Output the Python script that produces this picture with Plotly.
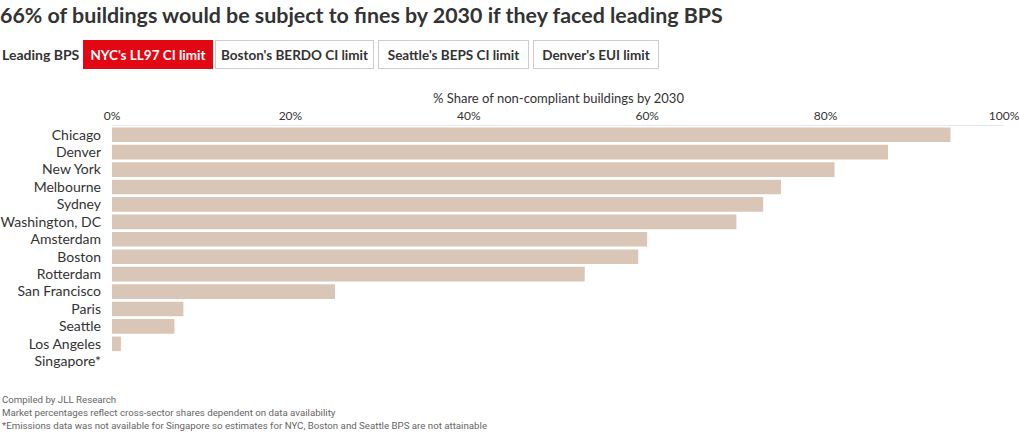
import plotly.graph_objects as go

cities = ["Chicago", "Denver", "New York", "Melbourne", "Sydney", "Washington, DC",
          "Amsterdam", "Boston", "Rotterdam", "San Francisco", "Paris", "Seattle",
          "Los Angeles", "Singapore*"]
share_pct = [94, 87, 81, 75, 73, 70, 60, 59, 53, 25, 8, 7, 1, None]
tick_vals = [0, 20, 40, 60, 80, 100]
tick_text = ["0%", "20%", "40%", "60%", "80%", "100%"]
buttons = ["NYC's LL97 CI limit", "Boston's BERDO CI limit", "Seattle's BEPS CI limit", "Denver's EUI limit"]
footnotes = ["Compiled by JLL Research",
             "Market percentages reflect cross-sector shares dependent on data availability",
             "*Emissions data was not available for Singapore so estimates for NYC, Boston and Seattle BPS are not attainable"]

FW, FH = 1020, 432
L, R, T, B = 112, 16, 126, 62
W, H = FW - L - R, FH - T - B


def px(x):
    return (x - L) / W


def py(y):
    return (FH - B - y) / H


FONT = "Lato, 'Open Sans', sans-serif"
TXT = "#333333"

fig = go.Figure(go.Bar(
    y=cities, x=share_pct, orientation="h",
    marker=dict(color="#dac6b7", line=dict(width=0)),
    hoverinfo="skip",
))

ann = []
ann.append(dict(x=px(0), y=py(54.5), xref="paper", yref="paper", xanchor="left", yanchor="middle",
                text="<b>Leading BPS</b>", showarrow=False, font=dict(family=FONT, size=14, color=TXT)))
btn_boxes = [(83, 213), (215, 374), (378, 529), (533, 659)]
for i, (lab, (x0, x1)) in enumerate(zip(buttons, btn_boxes)):
    active = i == 0
    ann.append(dict(
        x=px((x0 + x1) / 2), y=py(54.5), xref="paper", yref="paper",
        xanchor="center", yanchor="middle", showarrow=False,
        text="<b>%s</b>" % lab, width=x1 - x0 - 2, height=27, align="center", valign="middle",
        bgcolor="#e30613" if active else "#ffffff",
        bordercolor="#e30613" if active else "#cccccc", borderwidth=1, borderpad=0,
        font=dict(family=FONT, size=13.5, color="#ffffff" if active else TXT),
    ))
ann.append(dict(x=0.5, y=py(98), xref="paper", yref="paper", xanchor="center", yanchor="middle",
                text="% Share of non-compliant buildings by 2030", showarrow=False,
                font=dict(family=FONT, size=13, color=TXT)))
for yy, t in zip([399, 412, 425], footnotes):
    ann.append(dict(x=px(0), y=py(yy), xref="paper", yref="paper", xanchor="left", yanchor="middle",
                    text=t, showarrow=False, font=dict(family="Roboto, sans-serif", size=9.7, color="#666666")))

fig.update_layout(
    template="none",
    width=FW, height=FH,
    margin=dict(l=L, r=R, t=T, b=B, pad=0, autoexpand=False),
    paper_bgcolor="white", plot_bgcolor="white",
    title=dict(text="<b>66% of buildings would be subject to fines by 2030 if they faced leading BPS</b>",
               x=0, xref="container", xanchor="left", y=1 - 16 / FH, yref="container", yanchor="middle",
               font=dict(family=FONT, size=21.4, color="#333333")),
    bargap=0.16,
    showlegend=False,
    annotations=ann,
    xaxis=dict(side="top", range=[0, 100], tickvals=tick_vals, ticktext=tick_text, automargin=False,
               showgrid=False, zeroline=False, showline=True, linecolor="#e6e6e6", linewidth=1,
               ticks="", tickfont=dict(family=FONT, size=12, color=TXT), fixedrange=True),
    yaxis=dict(autorange="reversed", showgrid=False, zeroline=False, showline=False, ticks="",
               automargin=False, ticklabelstandoff=10,
               tickfont=dict(family=FONT, size=14, color=TXT), fixedrange=True),
)

fig.write_html("out.html", config={"displayModeBar": False},
               post_script="document.body.style.margin='0px';document.body.style.overflow='hidden';")
